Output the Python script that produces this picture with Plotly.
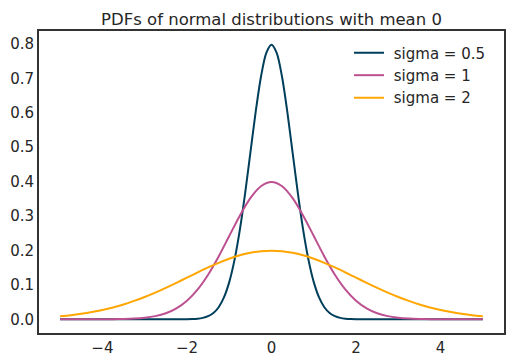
import plotly.graph_objects as go

# x grid for the wider curves
x_wide = [-5.0, -4.75, -4.5, -4.25, -4.0, -3.75, -3.5, -3.25, -3.0, -2.75, -2.5,
          -2.25, -2.0, -1.75, -1.5, -1.25, -1.0, -0.75, -0.5, -0.25, 0.0,
          0.25, 0.5, 0.75, 1.0, 1.25, 1.5, 1.75, 2.0, 2.25, 2.5,
          2.75, 3.0, 3.25, 3.5, 3.75, 4.0, 4.25, 4.5, 4.75, 5.0]

sigma_1 = [0.0000, 0.0000, 0.0000, 0.0000, 0.0001, 0.0004, 0.0009, 0.0020, 0.0044, 0.0091, 0.0175,
           0.0317, 0.0540, 0.0863, 0.1295, 0.1826, 0.2420, 0.3011, 0.3521, 0.3867, 0.3989,
           0.3867, 0.3521, 0.3011, 0.2420, 0.1826, 0.1295, 0.0863, 0.0540, 0.0317, 0.0175,
           0.0091, 0.0044, 0.0020, 0.0009, 0.0004, 0.0001, 0.0000, 0.0000, 0.0000, 0.0000]

sigma_2 = [0.0088, 0.0119, 0.0159, 0.0209, 0.0270, 0.0344, 0.0431, 0.0533, 0.0648, 0.0775, 0.0913,
           0.1059, 0.1210, 0.1360, 0.1506, 0.1641, 0.1760, 0.1859, 0.1933, 0.1979, 0.1995,
           0.1979, 0.1933, 0.1859, 0.1760, 0.1641, 0.1506, 0.1360, 0.1210, 0.1059, 0.0913,
           0.0775, 0.0648, 0.0533, 0.0431, 0.0344, 0.0270, 0.0209, 0.0159, 0.0119, 0.0088]

# finer x grid for the narrow curve
x_narrow = [-5.0, -4.0, -3.0, -2.5, -2.25, -2.0, -1.875, -1.75, -1.625, -1.5, -1.375,
            -1.25, -1.125, -1.0, -0.875, -0.75, -0.625, -0.5, -0.375, -0.25, -0.125, 0.0,
            0.125, 0.25, 0.375, 0.5, 0.625, 0.75, 0.875, 1.0, 1.125, 1.25,
            1.375, 1.5, 1.625, 1.75, 1.875, 2.0, 2.25, 2.5, 3.0, 4.0, 5.0]

sigma_05 = [0.0000, 0.0000, 0.0000, 0.0000, 0.0000, 0.0003, 0.0007, 0.0017, 0.0041, 0.0089, 0.0182,
            0.0350, 0.0635, 0.1080, 0.1726, 0.2590, 0.3653, 0.4839, 0.6022, 0.7041, 0.7733, 0.7979,
            0.7733, 0.7041, 0.6022, 0.4839, 0.3653, 0.2590, 0.1726, 0.1080, 0.0635, 0.0350,
            0.0182, 0.0089, 0.0041, 0.0017, 0.0007, 0.0003, 0.0000, 0.0000, 0.0000, 0.0000, 0.0000]

x_ticks = [-4, -2, 0, 2, 4]
y_ticks = [0.0, 0.1, 0.2, 0.3, 0.4, 0.5, 0.6, 0.7, 0.8]

series = [
    ("sigma = 0.5", x_narrow, sigma_05, "#003f5c", "legend"),
    ("sigma = 1", x_wide, sigma_1, "#bc5090", "legend2"),
    ("sigma = 2", x_wide, sigma_2, "#ffa600", "legend3"),
]

fig = go.Figure()
for name, xs, ys, color, leg in series:
    fig.add_trace(go.Scatter(x=xs, y=ys, mode="lines", name="\u00a0" + name, legend=leg,
                             line=dict(color=color, width=2, shape="spline", smoothing=0.8)))

font_family = "DejaVu Sans"
H = 364.0
leg_common = dict(x=0.6667, xanchor="left", yanchor="middle",
                  bgcolor="rgba(0,0,0,0)", font=dict(size=15, color="#262626"))
fig.update_layout(
    width=514, height=364,
    margin=dict(l=39, r=10, t=31, b=31, autoexpand=False),
    paper_bgcolor="white", plot_bgcolor="white",
    font=dict(family=font_family, size=15, color="#262626"),
    title=dict(text="PDFs of normal distributions with mean 0", x=0.5 * (39 + 504) / 514,
               xanchor="center", y=1 - 19 / H, yanchor="middle", automargin=False,
               font=dict(size=16.5, color="#262626")),
    showlegend=True,
    legend=dict(y=(333.5 - 53) / 302.5, **leg_common),
    legend2=dict(y=(333.5 - 75.5) / 302.5, **leg_common),
    legend3=dict(y=(333.5 - 98) / 302.5, **leg_common),
)
fig.update_xaxes(range=[-5.5, 5.5], tickvals=x_ticks, showgrid=False, zeroline=False,
                 showline=True, mirror=True, linecolor="#333333", linewidth=2,
                 ticks="", tickfont=dict(size=15), automargin=False)
fig.update_yaxes(range=[-0.0399, 0.8378], tickvals=y_ticks, tickformat=".1f", showgrid=False,
                 zeroline=False, showline=True, mirror=True, linecolor="#333333", linewidth=2,
                 ticks="", tickfont=dict(size=15), automargin=False)

fig.write_html("out.html", config={"displayModeBar": False},
               post_script="document.body.style.margin='0';document.body.style.padding='0';")
